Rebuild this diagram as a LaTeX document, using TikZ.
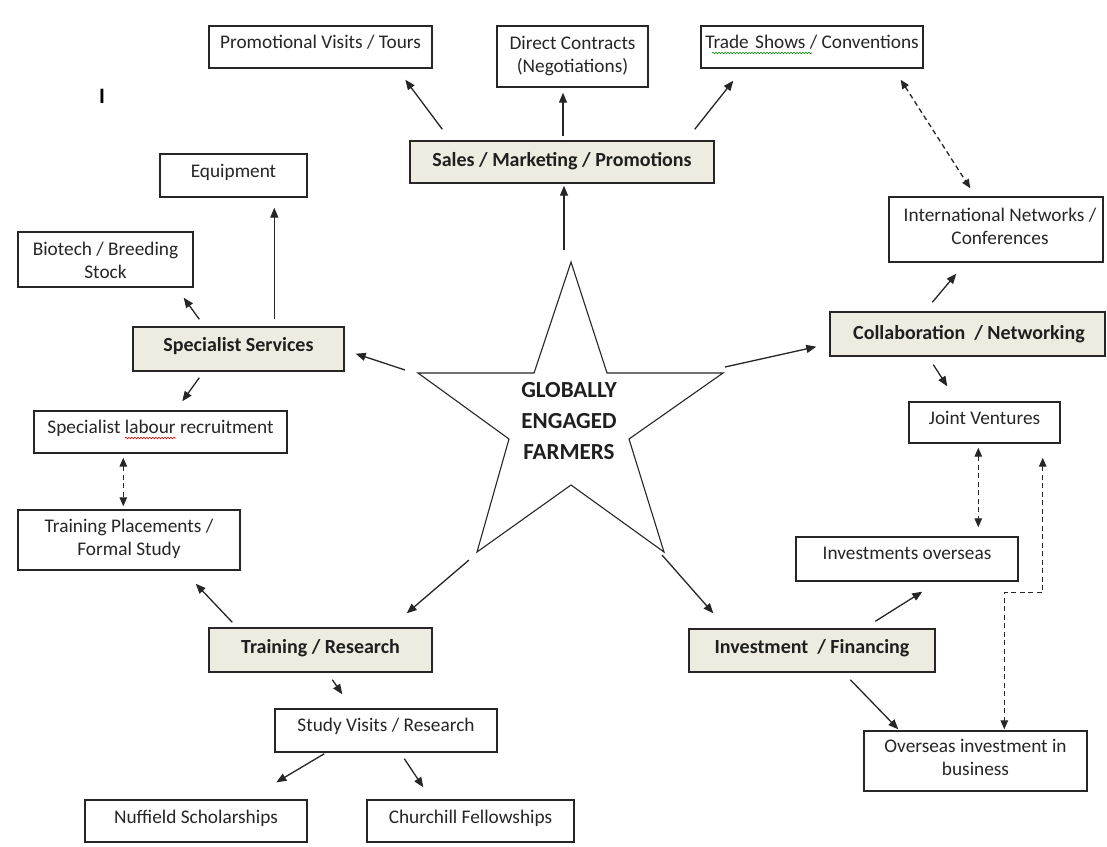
\documentclass[tikz,border=0pt]{standalone}
\usepackage{fontspec}
\setmainfont{Carlito}
\usetikzlibrary{arrows.meta,decorations.pathmorphing}
\definecolor{beige}{HTML}{EEECE1}
\definecolor{ink}{HTML}{262626}
\begin{document}
\begin{tikzpicture}[x=1pt,y=-1pt,
  bx/.style={draw=ink, line width=1.4pt, inner sep=0pt, fill=white},
  hb/.style={bx, fill=beige},
  txt/.style={font=\fontsize{19.3}{23}\selectfont, text=ink, inner sep=0pt, anchor=base, align=center},
  htxt/.style={font=\fontsize{20}{24}\selectfont\bfseries, text=black!88, inner sep=0pt, anchor=base},
  arr/.style={draw=ink, line width=1.3pt, -{Triangle[length=10pt,width=8pt]}},
  darr/.style={draw=ink, line width=1.3pt, dash pattern=on 5pt off 3.5pt,
    {Triangle[length=9pt,width=7.5pt]}-{Triangle[length=9pt,width=7.5pt]}},
  squig/.style={line width=0.6pt, decorate, decoration={snake, amplitude=0.8pt, segment length=3pt}}
]
\useasboundingbox (0,0) rectangle (1107,846);
\fill[white] (0,0) rectangle (1107,846);

% stray mark
\node[font=\fontsize{22}{22}\selectfont\bfseries, anchor=base, inner sep=0pt] (stray) at (102,103) {I};

% boxes
\node[bx, minimum width=223pt, minimum height=42pt] (promo) at (320.5,47) {};
\node[bx, minimum width=151pt, minimum height=61pt] (direct) at (572.5,56.5) {};
\node[bx, minimum width=222pt, minimum height=42pt] (trade) at (812,47) {};
\node[hb, minimum width=304pt, minimum height=42pt] (sales) at (562,162) {};
\node[bx, minimum width=147pt, minimum height=43pt] (equip) at (233.5,175.5) {};
\node[bx, minimum width=175pt, minimum height=55pt] (biotech) at (105.5,259.5) {};
\node[hb, minimum width=211pt, minimum height=44pt] (ss) at (238.5,349) {};
\node[bx, minimum width=253pt, minimum height=42pt] (labour) at (160.5,432) {};
\node[bx, minimum width=222pt, minimum height=60pt] (tp) at (129,540) {};
\node[hb, minimum width=223pt, minimum height=44pt] (tr) at (320.5,650) {};
\node[bx, minimum width=222pt, minimum height=43pt] (sv) at (386,730.5) {};
\node[bx, minimum width=222pt, minimum height=42pt] (nuff) at (196,821) {};
\node[bx, minimum width=207pt, minimum height=42pt] (church) at (470.5,821) {};
\node[bx, minimum width=214pt, minimum height=65pt] (intl) at (996,229.5) {};
\node[hb, minimum width=275pt, minimum height=44pt] (collab) at (967.5,334) {};
\node[bx, minimum width=151pt, minimum height=41pt] (jv) at (984.5,422.5) {};
\node[bx, minimum width=222pt, minimum height=44pt] (io) at (907,559) {};
\node[hb, minimum width=246pt, minimum height=43pt] (invf) at (812,650.5) {};
\node[bx, minimum width=223pt, minimum height=60pt] (oi) at (975.5,761) {};

% texts
\node[txt] (promo-t) at (320.5,48) {Promotional Visits / Tours};
\node[txt] (direct-t) at (572.5,72) {Direct Contracts\\(Negotiations)};
\node[txt] (trade-t) at (812,48) {Trade\,\,Shows / Conventions};
\node[htxt] (sales-t) at (562,166.5) {Sales / Marketing / Promotions};
\node[txt] (equip-t) at (233.5,177) {Equipment};
\node[txt] (biotech-t) at (105.5,278) {Biotech / Breeding\\Stock};
\node[htxt] (ss-t) at (238.5,351.5) {Specialist Services};
\node[txt] (labour-t) at (160.5,433) {Specialist labour recruitment};
\node[txt] (tp-t) at (129,555) {Training Placements /\\Formal Study};
\node[htxt] (tr-t) at (320.5,653.5) {Training / Research};
\node[txt] (sv-t) at (386,731) {Study Visits / Research};
\node[txt] (nuff-t) at (196,823) {Nuffield Scholarships};
\node[txt] (church-t) at (470.5,823) {Churchill Fellowships};
\node[txt] (intl-t) at (1000,244) {International Networks /\\Conferences};
\node[htxt] (collab-t) at (969,339.5) {Collaboration~ / Networking};
\node[txt] (jv-t) at (984.5,424) {Joint Ventures};
\node[txt] (io-t) at (907,559) {Investments overseas};
\node[htxt] (invf-t) at (812,653.5) {Investment~ / Financing};
\node[txt] (oi-t) at (975.5,775) {Overseas investment in\\business};

% proofing squiggles
\draw[squig, green!55!black] (712,53) -- (812,53);
\draw[squig, red!80!black] (125,438) -- (176,438);

% star
\coordinate (sT) at (571,262);
\coordinate (sUR) at (723,373);
\coordinate (sLR) at (664,552);
\coordinate (sLL) at (477,552);
\coordinate (sUL) at (418,373);
\draw[ink, line width=1.1pt, fill=white] (sT) -- (607,373) -- (sUR) -- (629,439) -- (sLR)
  -- (571,485) -- (sLL) -- (509,439) -- (sUL) -- (534,373) -- cycle;
\node[font=\fontsize{23}{31}\selectfont\bfseries, text=black!88, align=center, anchor=base, inner sep=0pt]
  (gef) at (569,459) {GLOBALLY\\ENGAGED\\FARMERS};

% connectors
\draw[arr] ([shift={(-7,-12)}]sT) -- ([shift={(2,2)}]sales.south);
\draw[arr] ([shift={(1,-4)}]sales.north) -- ([shift={(-9.5,5)}]direct.south);
\draw[arr] ([shift={(33,-11)}]sales.north west) -- ([shift={(197,11)}]promo.south west);
\draw[arr] ([shift={(-20,-11)}]sales.north east) -- ([shift={(33,12)}]trade.south west);
\draw[darr] ([shift={(-23,11)}]trade.south east) -- ([shift={(82,-8)}]intl.north west);
\draw[arr] ([shift={(103,-9)}]collab.north west) -- ([shift={(68,11)}]intl.south west);
\draw[arr] ([shift={(2,-6)}]sUR) -- ([shift={(-13,-10)}]collab.south west);
\draw[arr] ([shift={(104,8)}]collab.south west) -- ([shift={(39,-15)}]jv.north west);
\draw[darr] ([shift={(70,4)}]jv.south west) -- ([shift={(183,-9)}]io.north west);
\draw[darr] ([shift={(-18,14)}]jv.south east) -- ++(0,135) -| ([shift={(141,-1)}]oi.north west);
\draw[arr] ([shift={(187,-7)}]invf.north west) -- ([shift={(127,10)}]io.south west);
\draw[arr] ([shift={(162,7)}]invf.south west) -- ([shift={(35,-1)}]oi.north west);
\draw[arr] ([shift={(-2,3)}]sLR) -- ([shift={(25,-15)}]invf.north west);
\draw[arr] ([shift={(-8,8)}]sLL) -- ([shift={(-26,-14)}]tr.north east);
\draw[arr] ([shift={(24,-5)}]tr.north west) -- ([shift={(-45,13)}]tp.south east);
\draw[arr] ([shift={(124,7)}]tr.south west) -- ([shift={(68,-14)}]sv.north west);
\draw[arr] ([shift={(50,1)}]sv.south west) -- ([shift={(192,-17)}]nuff.north west);
\draw[arr] ([shift={(130,6)}]sv.south west) -- ([shift={(57,-12)}]church.north west);
\draw[arr] ([shift={(-13,-3)}]sUL) -- ([shift={(11,-18)}]ss.south east);
\draw[arr] ([shift={(142,-7)}]ss.north west) -- ([shift={(115,10)}]equip.south west);
\draw[arr] ([shift={(67,-7)}]ss.north west) -- ([shift={(-10,10)}]biotech.south east);
\draw[arr] ([shift={(67,6)}]ss.south west) -- ([shift={(149,-9)}]labour.north west);
\draw[darr] ([shift={(90,4)}]labour.south west) -- ([shift={(106,-3)}]tp.north west);
\end{tikzpicture}
\end{document}
